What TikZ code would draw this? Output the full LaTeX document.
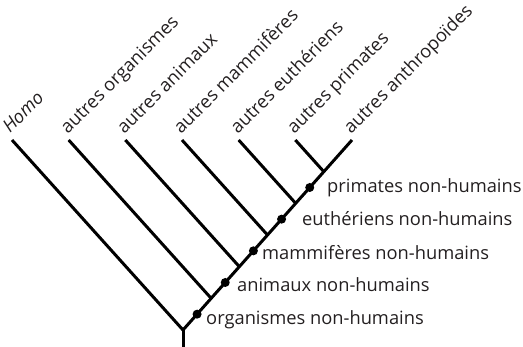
\documentclass[tikz,border=0pt]{standalone}
\usepackage{fontspec}
\usetikzlibrary{calc}
\setmainfont{Open Sans}
\definecolor{ink}{HTML}{231F20}
\begin{document}
\begin{tikzpicture}[x=1pt,y=-1pt,
  branch/.style={draw=black, line width=3pt},
  dotnode/.style={circle, fill=black, inner sep=0pt, minimum size=9pt},
  toplabel/.style={rotate=45, anchor=base west, inner sep=0pt, text=ink, font=\fontsize{18.3}{22}\selectfont},
  sidelabel/.style={anchor=base west, inner sep=0pt, text=ink, font=\fontsize{18.3}{22}\selectfont}]
\useasboundingbox (0,0) rectangle (523,347);
% root and tips
\coordinate (root) at (183,330);
\coordinate (base) at (183,347);
\foreach \i/\x in {0/12,1/68.67,2/125.33,3/182,4/238.67,5/295.33,6/352}{
  \coordinate (t\i) at (\x,140);
  \coordinate (e\i) at ($(t\i)+(171,190)$);
}
% junctions
\foreach \i in {1,...,5}{
  \coordinate (j\i) at (intersection of root--t6 and t\i--e\i);
}
\coordinate (j0) at (root);
% lines
\draw[branch] (t0) -- (root) -- (t6);
\draw[branch] (root) -- (base);
\foreach \i in {1,...,5}{
  \draw[branch] (t\i) -- (j\i);
}
% dots
\foreach \a/\b in {0/1,1/2,2/3,3/4,4/5}{
  \node[dotnode] (d\b) at ($(j\a)!0.5!(j\b)$) {};
}
% top labels
\node[toplabel, font=\fontsize{18.3}{22}\selectfont\itshape] (l0) at ($(t0)+(-2,-6)$) {Homo};
\node[toplabel] (l1) at ($(t1)+(-1,-5)$) {autres organismes};
\node[toplabel] (l2) at ($(t2)+(-1,-5)$) {autres animaux};
\node[toplabel] (l3) at ($(t3)+(-1,-5)$) {autres mammifères};
\node[toplabel] (l4) at ($(t4)+(-1,-5)$) {autres euthériens};
\node[toplabel] (l5) at ($(t5)+(-1,-5)$) {autres primates};
\node[toplabel] (l6) at ($(t6)+(-1,-5)$) {autres anthropoïdes};
% side labels
\node[sidelabel] (s1) at (206,325) {organismes non-humains};
\node[sidelabel] (s2) at (237,292) {animaux non-humains};
\node[sidelabel] (s3) at (262,260) {mammifères non-humains};
\node[sidelabel] (s4) at (302,226) {euthériens non-humains};
\node[sidelabel] (s5) at (327,193) {primates non-humains};
\end{tikzpicture}
\end{document}
